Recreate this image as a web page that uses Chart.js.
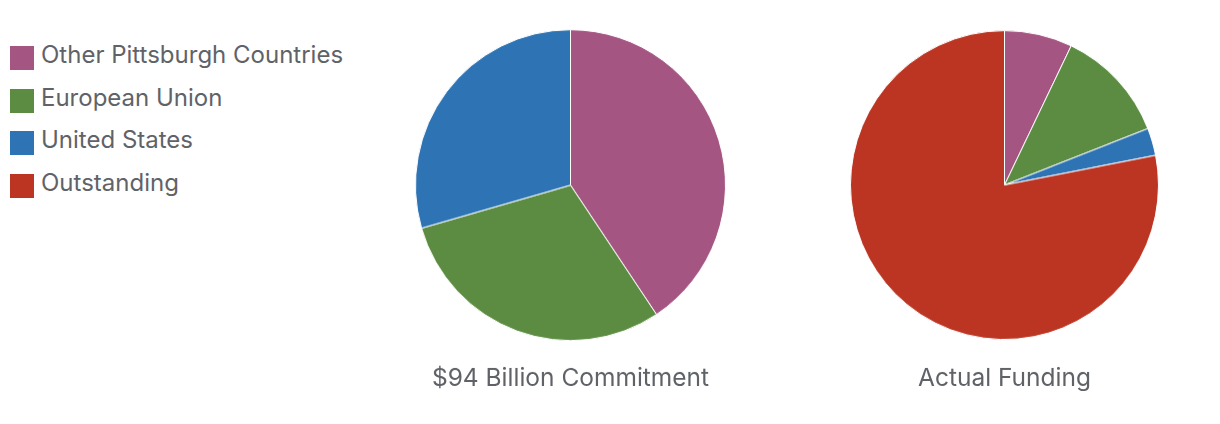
<!DOCTYPE html>
<html>
<head>
<meta charset="utf-8">
<script src="https://cdn.jsdelivr.net/npm/chart.js@4.4.1/dist/chart.umd.min.js"></script>
<style>
  html, body { margin: 0; padding: 0; background: #fff; }
  body { width: 1220px; height: 424px; position: relative; overflow: hidden; font-family: Inter, "Open Sans", sans-serif; }
  .legend { position: absolute; left: 10px; top: 46px; }
  .legend .item { height: 24px; margin-bottom: 18.67px; display: flex; align-items: center; }
  .legend .sw { width: 24px; height: 24px; margin-right: 7px; flex: none; }
  .legend .lbl { font-size: 24px; color: #5f6368; white-space: nowrap; line-height: 24px; position: relative; top: -3px; }
  .box { position: absolute; }
</style>
</head>
<body>
<div class="legend" id="legend"></div>
<div class="box" style="left:415px; top:29px; width:311px; height:366.7px;"><canvas id="pie1"></canvas></div>
<div class="box" style="left:850px; top:30px; width:309px; height:365.9px;"><canvas id="pie2"></canvas></div>
<script>
// --- DATOS ---
const categories = ['Other Pittsburgh Countries', 'European Union', 'United States', 'Outstanding'];
const colors = ['#a55582', '#5b8c41', '#2e74b5', '#bb3522'];

// miles de millones de USD
const commitment = [38.2, 28.1, 27.7, 0];
const actualFunding = [6.7, 11.2, 2.7, 73.4];

const titles = ['$94 Billion Commitment', 'Actual Funding'];

// --- LEYENDA ---
document.getElementById('legend').innerHTML = categories.map((c, i) =>
  `<div class="item"><span class="sw" style="background:${colors[i]}"></span><span class="lbl">${c}</span></div>`
).join('');

// --- GRÁFICAS ---
function makePie(id, values, title, padTop) {
  const ctx = document.getElementById(id).getContext('2d');
  return new Chart(ctx, {
    type: 'pie',
    data: {
      labels: categories,
      datasets: [{
        data: values,
        backgroundColor: colors,
        borderColor: '#ffffff',
        borderWidth: 1
      }]
    },
    options: {
      responsive: true,
      maintainAspectRatio: false,
      animation: false,
      layout: { padding: 0 },
      plugins: {
        legend: { display: false },
        tooltip: { enabled: false },
        title: {
          display: true,
          position: 'bottom',
          text: title,
          color: '#5f6368',
          font: { family: 'Inter', size: 24.5, weight: 'normal', lineHeight: 28.8 / 24.5 },
          padding: { top: padTop, bottom: 4 }
        }
      }
    }
  });
}

makePie('pie1', commitment, titles[0], 22.5);
makePie('pie2', actualFunding, titles[1], 23.9);
</script>
</body>
</html>
